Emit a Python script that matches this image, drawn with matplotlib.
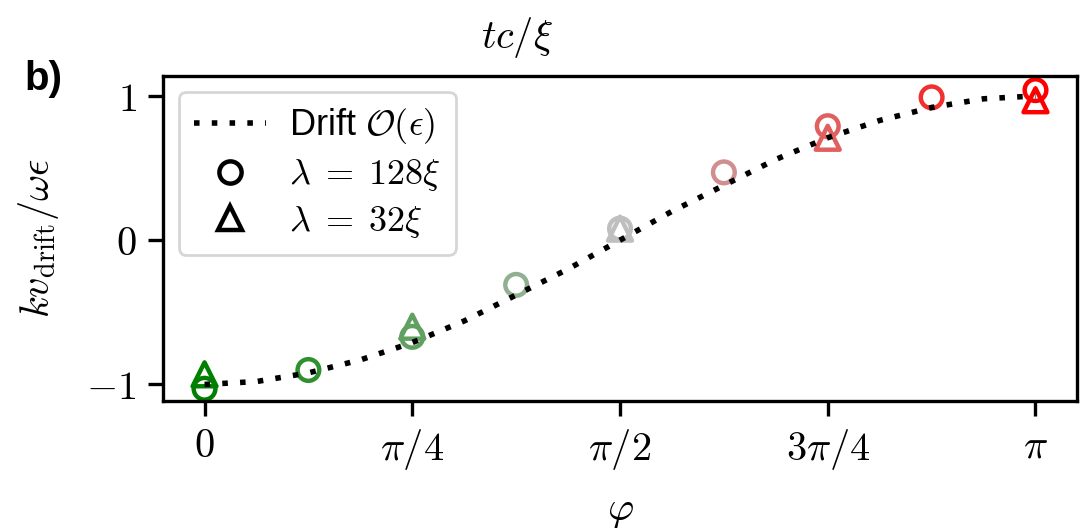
import numpy as np
import matplotlib
matplotlib.use("Agg")
import matplotlib.pyplot as plt
import matplotlib.colors as mcolors
from matplotlib.lines import Line2D

plt.rcParams["font.family"] = ["Liberation Sans", "DejaVu Sans"]
plt.rcParams["mathtext.fontset"] = "cm"
plt.rcParams["font.size"] = 14.5

# phase offsets in units of pi
phi_128 = [0, 1/8, 2/8, 3/8, 4/8, 5/8, 6/8, 7/8, 1]
v_128 = [-1.03, -0.90, -0.67, -0.31, 0.08, 0.47, 0.79, 0.99, 1.04]

phi_32 = [0, 1/4, 2/4, 3/4, 1]
v_32 = [-0.93, -0.60, 0.08, 0.71, 0.97]

# first-order drift curve
phi_drift = [0, 1/16, 2/16, 3/16, 4/16, 5/16, 6/16, 7/16, 8/16,
             9/16, 10/16, 11/16, 12/16, 13/16, 14/16, 15/16, 1]
v_drift = [-1.00, -0.98, -0.92, -0.83, -0.71, -0.56, -0.38, -0.20, 0.00,
           0.20, 0.38, 0.56, 0.71, 0.83, 0.92, 0.98, 1.00]

xtick_pos = [0, 1/4, 1/2, 3/4, 1]
xtick_labels = [r"$0$", r"$\pi/4$", r"$\pi/2$", r"$3\pi/4$", r"$\pi$"]
ytick_pos = [-1, 0, 1]
ytick_labels = [r"$-1$", r"$0$", r"$1$"]

cmap = mcolors.LinearSegmentedColormap.from_list("gsr", ["green", "silver", "red"])

fig = plt.figure(figsize=(5.455, 2.64), dpi=200)
ax = fig.add_axes([0.1494, 0.2405, 0.8378, 0.6161])

ax.scatter(np.pi * np.array(phi_128), v_128, s=7.8**2, marker="o",
           facecolors="none", edgecolors=cmap(np.array(phi_128)),
           linewidths=1.6, zorder=2)
ax.scatter(np.pi * np.array(phi_32), v_32, s=8.6**2, marker="^",
           facecolors="none", edgecolors=cmap(np.array(phi_32)),
           linewidths=1.6, zorder=3)
ax.plot(np.pi * np.array(phi_drift), v_drift, color="k",
        ls=(0, (1, 2.2)), lw=2.0, zorder=4)

ax.set_xticks(np.pi * np.array(xtick_pos))
ax.set_xticklabels(xtick_labels)
ax.set_yticks(ytick_pos)
ax.set_yticklabels(ytick_labels)
ax.set_ylim(-1.115, 1.14)
ax.tick_params(length=5.5, width=1.2, pad=4)
for sp in ax.spines.values():
    sp.set_linewidth(1.2)

ax.set_xlabel(r"$\varphi$", labelpad=7)
ax.set_ylabel(r"$kv_{\rm drift}/\omega\epsilon$", labelpad=9)

handles = [
    Line2D([], [], color="k", ls=(0, (1, 2.2)), lw=2.0),
    Line2D([], [], marker="o", ls="none", mfc="none", mec="k", ms=8, mew=1.6),
    Line2D([], [], marker="^", ls="none", mfc="none", mec="k", ms=8.8, mew=1.6),
]
labels = [r"Drift $\mathcal{O}(\epsilon)$", r"$\lambda\;=\;128\xi$", r"$\lambda\;=\;32\xi$"]
ax.legend(handles, labels, loc="upper left", fontsize=13,
          labelspacing=0.3, borderpad=0.4, handletextpad=0.65,
          borderaxespad=0.45)

fig.text(517 / 1091, 1 - 38 / 528, r"$tc/\xi$", ha="center", va="center")
fig.text(0.022, 0.83, "b)", fontweight="bold", va="baseline")

fig.savefig("out.png", dpi=200)
